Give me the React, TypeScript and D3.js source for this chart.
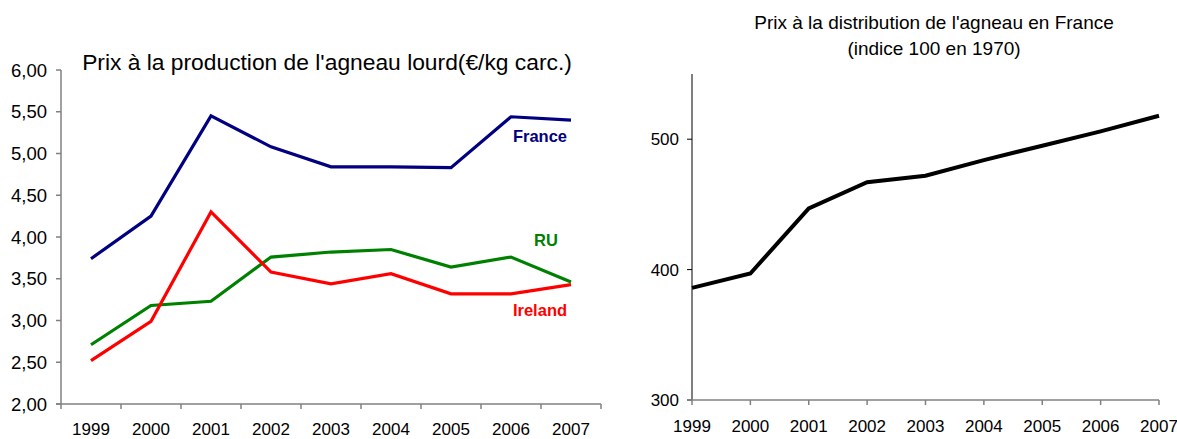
import React from "react";
import * as d3 from "d3";

const years = ["1999", "2000", "2001", "2002", "2003", "2004", "2005", "2006", "2007"];
const france = [3.74, 4.25, 5.45, 5.08, 4.84, 4.84, 4.83, 5.44, 5.4];
const ru = [2.71, 3.18, 3.23, 3.76, 3.82, 3.85, 3.64, 3.76, 3.46];
const ireland = [2.52, 2.99, 4.3, 3.58, 3.44, 3.56, 3.32, 3.32, 3.43];
const leftTicks = [2, 2.5, 3, 3.5, 4, 4.5, 5, 5.5, 6];
const distrib = [386, 397, 447, 467, 472, 484, 495, 506, 518];
const rightTicks = [300, 400, 500];

const FONT = "'Liberation Sans', Arial, sans-serif";

export default function App() {
  // Left chart
  const lx = d3.scaleBand<string>().domain(years).range([61, 601]).padding(0);
  const ly = d3.scaleLinear().domain([2, 6]).range([404, 70]);
  const cx = (y: string) => (lx(y) as number) + lx.bandwidth() / 2;
  const lline = d3
    .line<number>()
    .x((_, i) => cx(years[i]))
    .y((d) => ly(d));
  const fmt = (v: number) => v.toFixed(2).replace(".", ",");
  const bandEdges = years.map((y) => lx(y) as number).concat([601]);

  const series = [
    { name: "France", values: france, color: "#000080", lx: 540, ly: 142 },
    { name: "RU", values: ru, color: "#008000", lx: 546, ly: 246 },
    { name: "Ireland", values: ireland, color: "#FF0000", lx: 540, ly: 316 },
  ];

  // Right chart
  const rx = d3.scalePoint<string>().domain(years).range([692, 1159]);
  const ry = d3.scaleLinear().domain([300, 550]).range([400, 74]);
  const rline = d3
    .line<number>()
    .x((_, i) => rx(years[i]) as number)
    .y((d) => ry(d));

  return (
    <svg
      width={1177}
      height={439}
      style={{ position: "absolute", left: 0, top: 0, background: "#fff" }}
      fontFamily={FONT}
    >
      <rect width={1177} height={439} fill="#fff" />
      {/* LEFT CHART */}
      <text x={327} y={70} fontSize={22.8} textAnchor="middle" fill="#000">
        Prix à la production de l'agneau lourd(€/kg carc.)
      </text>
      <line x1={61} x2={61} y1={70} y2={404} stroke="#808080" strokeWidth={1.5} />
      {leftTicks.map((t) => (
        <g key={t}>
          <line x1={56} x2={61} y1={ly(t)} y2={ly(t)} stroke="#808080" strokeWidth={1.5} />
          <text x={47} y={ly(t) + 6.5} fontSize={18.5} textAnchor="end" fill="#000">
            {fmt(t)}
          </text>
        </g>
      ))}
      <line x1={56} x2={601} y1={404} y2={404} stroke="#808080" strokeWidth={1.5} />
      {bandEdges.map((e, i) => (
        <line key={i} x1={e} x2={e} y1={404} y2={409} stroke="#808080" strokeWidth={1.5} />
      ))}
      {years.map((y) => (
        <text key={y} x={cx(y)} y={435} fontSize={17} textAnchor="middle" fill="#000">
          {y}
        </text>
      ))}
      {series.map((s) => (
        <g key={s.name}>
          <path d={lline(s.values) as string} fill="none" stroke={s.color} strokeWidth={3.2} strokeLinejoin="miter" />
          <text x={s.lx} y={s.ly} fontSize={16.5} fontWeight="bold" textAnchor="middle" fill={s.color}>
            {s.name}
          </text>
        </g>
      ))}

      {/* RIGHT CHART */}
      <text x={934} y={29} fontSize={19} textAnchor="middle" fill="#000">
        Prix à la distribution de l'agneau en France
      </text>
      <text x={934} y={55} fontSize={19} textAnchor="middle" fill="#000">
        (indice 100 en 1970)
      </text>
      <line x1={692} x2={692} y1={74} y2={400} stroke="#000" strokeWidth={1} />
      {rightTicks.map((t) => (
        <g key={t}>
          <line x1={687} x2={692} y1={ry(t)} y2={ry(t)} stroke="#000" strokeWidth={1} />
          <text x={679} y={ry(t) + 6} fontSize={17} textAnchor="end" fill="#000">
            {t}
          </text>
        </g>
      ))}
      <line x1={687} x2={1159} y1={400} y2={400} stroke="#808080" strokeWidth={1.5} />
      {years.map((y) => (
        <line key={y} x1={rx(y) as number} x2={rx(y) as number} y1={400} y2={405} stroke="#808080" strokeWidth={1.5} />
      ))}
      {years.map((y) => (
        <text key={y} x={rx(y) as number} y={432} fontSize={17} textAnchor="middle" fill="#000">
          {y}
        </text>
      ))}
      <path d={rline(distrib) as string} fill="none" stroke="#000" strokeWidth={4} strokeLinejoin="miter" />
    </svg>
  );
}
